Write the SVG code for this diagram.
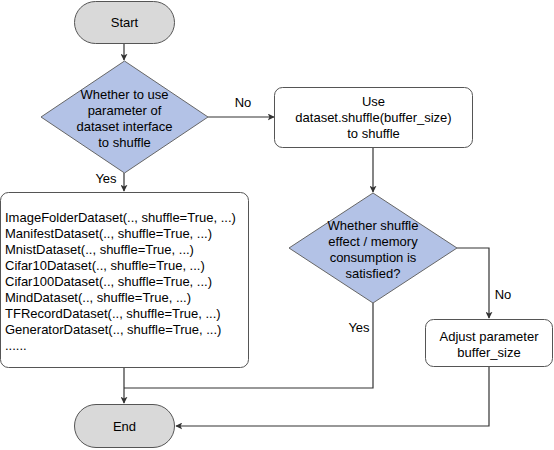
<svg xmlns="http://www.w3.org/2000/svg" width="554" height="450" viewBox="0 0 554 450">
<defs>
<marker id="arr" viewBox="0 0 10 10" refX="9" refY="5" markerWidth="7" markerHeight="7" markerUnits="userSpaceOnUse" orient="auto">
<path d="M0,0 L10,5 L0,10 L2.5,5 Z" fill="#333"/>
</marker>
<style>
text{font-family:"Liberation Sans",Arial,sans-serif;font-size:13px;fill:#000}
.c{text-anchor:middle}
.term{fill:#d9d9d9;stroke:#555;stroke-width:1}
.dec{fill:#b3c2e6;stroke:#666;stroke-width:1}
.box{fill:#fff;stroke:#555;stroke-width:1}
.ln{fill:none;stroke:#333;stroke-width:1.2}
</style>
</defs>
<rect width="554" height="450" fill="#fff"/>
<g id="connectors">
<path class="ln" d="M124,44 V60" marker-end="url(#arr)"/>
<path class="ln" d="M208,117 H274" marker-end="url(#arr)"/>
<path class="ln" d="M124,173 V191" marker-end="url(#arr)"/>
<path class="ln" d="M373,147 V192" marker-end="url(#arr)"/>
<path class="ln" d="M457,248 H489 V318" marker-end="url(#arr)"/>
<path class="ln" d="M373,303 V388 H124"/>
<path class="ln" d="M124,368 V403" marker-end="url(#arr)"/>
<path class="ln" d="M489,367 V426 H176" marker-end="url(#arr)"/>
<text x="243" y="107" class="c">No</text>
<text x="106" y="183" class="c">Yes</text>
<text x="503" y="299" class="c">No</text>
<text x="359" y="332" class="c">Yes</text>
</g>
<g id="start">
<rect class="term" x="74.5" y="1.5" width="100" height="42" rx="21"/>
<text x="124.5" y="27" class="c">Start</text>
</g>
<g id="decision1">
<polygon class="dec" points="124.5,61 208,117 124.5,173 41,117"/>
<text x="124.5" y="99" class="c">Whether to use</text>
<text x="124.5" y="115" class="c">parameter of</text>
<text x="124.5" y="131" class="c">dataset interface</text>
<text x="124.5" y="147" class="c">to shuffle</text>
</g>
<g id="shuffle-box">
<rect class="box" x="274.5" y="87.5" width="198" height="60" rx="8"/>
<text x="373.5" y="106" class="c">Use</text>
<text x="373.5" y="122" class="c">dataset.shuffle(buffer_size)</text>
<text x="373.5" y="138" class="c">to shuffle</text>
</g>
<g id="dataset-box">
<rect class="box" x="0.5" y="192.5" width="248" height="175" rx="8"/>
<text x="5" y="222">ImageFolderDataset(.., shuffle=True, ...)</text>
<text x="5" y="238">ManifestDataset(.., shuffle=True, ...)</text>
<text x="5" y="254">MnistDataset(.., shuffle=True, ...)</text>
<text x="5" y="270">Cifar10Dataset(.., shuffle=True, ...)</text>
<text x="5" y="286">Cifar100Dataset(.., shuffle=True, ...)</text>
<text x="5" y="302">MindDataset(.., shuffle=True, ...)</text>
<text x="5" y="318">TFRecordDataset(.., shuffle=True, ...)</text>
<text x="5" y="334">GeneratorDataset(.., shuffle=True, ...)</text>
<text x="5" y="350">......</text>
</g>
<g id="decision2">
<polygon class="dec" points="373,193 457,248 373,303 289,248"/>
<text x="373" y="230" class="c">Whether shuffle</text>
<text x="373" y="246" class="c">effect / memory</text>
<text x="373" y="262" class="c">consumption is</text>
<text x="373" y="278" class="c">satisfied?</text>
</g>
<g id="adjust-box">
<rect class="box" x="425.5" y="319.5" width="127" height="47" rx="8"/>
<text x="489" y="341" class="c">Adjust parameter</text>
<text x="489" y="357" class="c">buffer_size</text>
</g>
<g id="end">
<rect class="term" x="74.5" y="404.5" width="100" height="43" rx="21.5"/>
<text x="124.5" y="431" class="c">End</text>
</g>
</svg>
